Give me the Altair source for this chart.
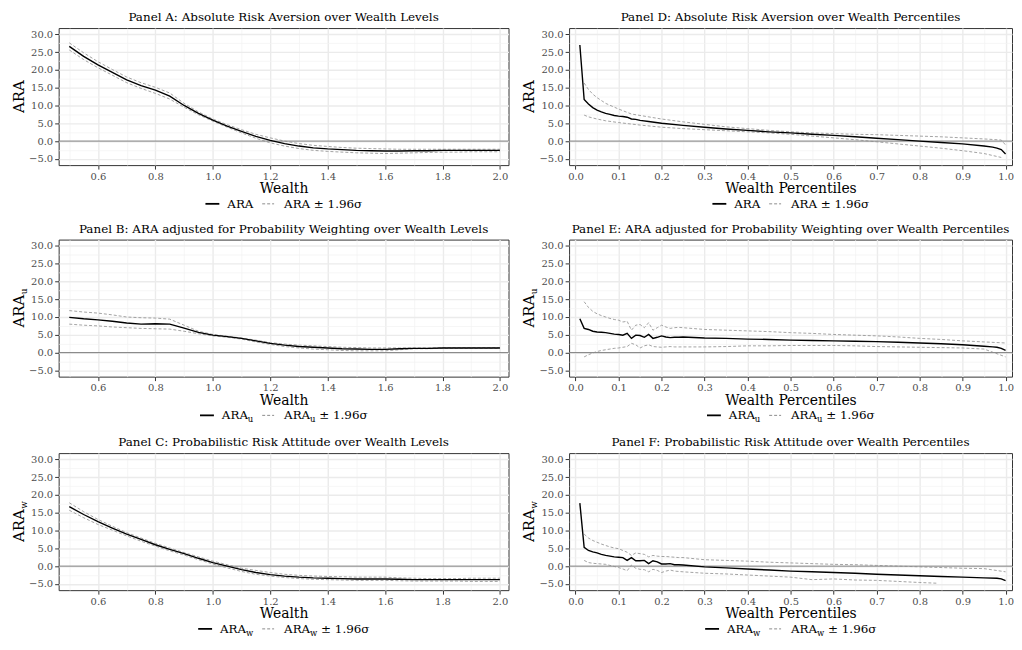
import altair as alt
import pandas as pd

FONT = "DejaVu Serif"

# ---------------- axes / scales ----------------
Y_DOMAIN = [-6.75, 31.75]
WEALTH_DOMAIN = [0.463, 2.03]
PCT_DOMAIN = [-0.015, 1.015]
Y_TICKS = [-5, -2.5, 0, 2.5, 5, 7.5, 10, 12.5, 15, 17.5, 20, 22.5, 25, 27.5, 30]
WEALTH_TICKS = [0.5, 0.6, 0.7, 0.8, 0.9, 1.0, 1.1, 1.2, 1.3, 1.4, 1.5, 1.6, 1.7, 1.8, 1.9, 2.0]
PCT_TICKS = [0.0, 0.05, 0.1, 0.15, 0.2, 0.25, 0.3, 0.35, 0.4, 0.45, 0.5, 0.55, 0.6, 0.65,
             0.7, 0.75, 0.8, 0.85, 0.9, 0.95, 1.0]

# ---------------- data: wealth levels ----------------
WEALTH = [0.50, 0.55, 0.60, 0.65, 0.70, 0.75, 0.80, 0.85, 0.90, 0.95, 1.00, 1.05, 1.10, 1.15,
          1.20, 1.25, 1.30, 1.35, 1.40, 1.45, 1.50, 1.55, 1.60, 1.65, 1.70, 1.75, 1.80, 1.85,
          1.90, 1.95, 2.00]

A_EST = [26.6, 23.8, 21.4, 19.3, 17.2, 15.6, 14.3, 12.6, 10.0, 7.8, 5.9, 4.2, 2.7, 1.3, 0.2,
         -0.7, -1.4, -1.9, -2.2, -2.4, -2.6, -2.7, -2.8, -2.8, -2.7, -2.7, -2.6, -2.6, -2.6, -2.6, -2.6]
A_UP = [27.6, 24.8, 22.3, 20.1, 18.0, 16.4, 15.1, 13.5, 10.6, 8.2, 6.2, 4.6, 3.2, 1.9, 0.9,
        0.0, -0.7, -1.2, -1.5, -1.8, -2.0, -2.1, -2.2, -2.3, -2.3, -2.3, -2.3, -2.3, -2.3, -2.3, -2.3]
A_LO = [25.6, 22.9, 20.6, 18.5, 16.4, 14.8, 13.4, 11.8, 9.5, 7.4, 5.6, 3.9, 2.3, 0.8, -0.5,
        -1.4, -2.1, -2.6, -2.9, -3.1, -3.3, -3.4, -3.5, -3.4, -3.3, -3.2, -3.1, -3.1, -3.0, -3.0, -3.0]

B_EST = [9.9, 9.5, 9.2, 8.8, 8.3, 8.0, 8.1, 8.0, 6.9, 5.7, 4.9, 4.5, 4.0, 3.3, 2.6, 2.1, 1.7,
         1.5, 1.3, 1.1, 1.0, 0.9, 0.9, 1.1, 1.2, 1.2, 1.3, 1.3, 1.3, 1.3, 1.3]
B_UP = [11.8, 11.4, 11.1, 10.6, 10.0, 9.8, 9.7, 9.4, 7.7, 6.0, 5.1, 4.6, 4.1, 3.5, 2.8, 2.4,
        2.1, 1.9, 1.7, 1.5, 1.4, 1.3, 1.3, 1.3, 1.3, 1.3, 1.4, 1.4, 1.4, 1.4, 1.4]
B_LO = [8.0, 7.7, 7.5, 7.2, 7.0, 6.8, 6.7, 6.6, 6.0, 5.3, 4.7, 4.3, 3.8, 3.0, 2.3, 1.7, 1.3,
        1.0, 0.8, 0.6, 0.5, 0.5, 0.5, 0.8, 1.1, 1.1, 1.2, 1.2, 1.2, 1.2, 1.2]

C_EST = [16.7, 14.5, 12.5, 10.7, 9.0, 7.5, 6.0, 4.7, 3.5, 2.2, 1.0, 0.0, -1.0, -1.8, -2.4,
         -2.8, -3.1, -3.3, -3.4, -3.5, -3.6, -3.6, -3.6, -3.7, -3.8, -3.8, -3.8, -3.8, -3.8, -3.8, -3.8]
C_UP = [17.8, 15.3, 13.1, 11.2, 9.4, 7.9, 6.4, 5.1, 3.8, 2.6, 1.4, 0.4, -0.6, -1.2, -1.8,
        -2.3, -2.6, -2.8, -2.9, -3.0, -3.1, -3.1, -3.1, -3.3, -3.4, -3.5, -3.5, -3.5, -3.4, -3.4, -3.4]
C_LO = [15.7, 13.6, 11.7, 10.1, 8.5, 7.0, 5.6, 4.3, 3.1, 1.8, 0.6, -0.5, -1.5, -2.3, -2.8,
        -3.2, -3.5, -3.7, -3.8, -3.9, -4.0, -4.0, -4.0, -4.1, -4.2, -4.2, -4.2, -4.2, -4.3, -4.3, -4.3]

# ---------------- data: wealth percentiles ----------------
D_EST_X = [0.01, 0.02, 0.03, 0.04, 0.05, 0.06, 0.07, 0.08, 0.09, 0.10, 0.11, 0.12, 0.13, 0.14,
           0.15, 0.17, 0.20, 0.25, 0.30, 0.35, 0.40, 0.45, 0.50, 0.55, 0.60, 0.65, 0.70, 0.75,
           0.80, 0.85, 0.90, 0.95, 0.97, 0.98, 0.99, 1.00]
D_EST = [27.0, 11.7, 10.4, 9.4, 8.7, 8.2, 7.8, 7.5, 7.2, 7.0, 6.9, 6.7, 6.2, 6.1, 5.8, 5.5,
         5.0, 4.4, 3.9, 3.4, 3.0, 2.6, 2.3, 1.9, 1.6, 1.2, 0.8, 0.4, 0.0, -0.4, -0.8, -1.4,
         -1.7, -2.0, -2.4, -3.6]
D_UP_X = [0.02, 0.03, 0.04, 0.05, 0.07, 0.10, 0.13, 0.15, 0.20, 0.25, 0.30, 0.35, 0.40, 0.45,
          0.50, 0.55, 0.60, 0.65, 0.70, 0.75, 0.80, 0.85, 0.90, 0.95, 0.99, 1.00]
D_UP = [16.3, 14.5, 13.2, 12.2, 10.6, 9.0, 7.6, 7.2, 6.2, 5.4, 4.7, 4.0, 3.5, 3.0, 2.6, 2.3,
        2.1, 1.9, 1.8, 1.6, 1.4, 1.2, 0.9, 0.6, 0.3, -1.1]
D_LO_X = [0.02, 0.03, 0.05, 0.07, 0.10, 0.15, 0.20, 0.25, 0.30, 0.35, 0.40, 0.45, 0.50, 0.55,
          0.60, 0.65, 0.70, 0.75, 0.80, 0.85, 0.90, 0.95, 0.99]
D_LO = [7.3, 6.8, 6.2, 5.7, 5.2, 4.5, 3.9, 3.5, 3.2, 2.9, 2.6, 2.3, 1.9, 1.4, 0.9, 0.4, -0.2,
        -0.8, -1.4, -2.0, -2.7, -3.5, -4.6]

E_EST_X = [0.01, 0.02, 0.03, 0.04, 0.05, 0.06, 0.07, 0.08, 0.09, 0.10, 0.11, 0.12, 0.13, 0.14,
           0.15, 0.16, 0.17, 0.18, 0.19, 0.20, 0.21, 0.22, 0.23, 0.24, 0.25, 0.30, 0.35, 0.40,
           0.45, 0.50, 0.55, 0.60, 0.65, 0.70, 0.75, 0.80, 0.85, 0.90, 0.95, 0.97, 0.98, 0.99, 1.00]
E_EST = [9.5, 6.8, 6.5, 6.0, 5.8, 5.7, 5.6, 5.4, 5.2, 5.1, 4.9, 5.4, 4.0, 4.9, 4.8, 4.3, 5.1,
         4.0, 4.3, 4.7, 4.4, 4.2, 4.3, 4.3, 4.4, 4.1, 4.0, 3.8, 3.7, 3.5, 3.4, 3.3, 3.2, 3.1,
         2.9, 2.7, 2.5, 2.2, 1.8, 1.6, 1.5, 1.2, 0.6]
E_BAND_X = [0.02, 0.03, 0.04, 0.05, 0.06, 0.07, 0.08, 0.09, 0.10, 0.11, 0.12, 0.13, 0.14, 0.15,
            0.16, 0.17, 0.18, 0.19, 0.20, 0.21, 0.22, 0.23, 0.24, 0.25, 0.30, 0.35, 0.40, 0.45,
            0.50, 0.55, 0.60, 0.65, 0.70, 0.75, 0.80, 0.85, 0.90, 0.95, 1.00]
E_UP = [14.3, 12.7, 11.6, 10.9, 10.4, 10.0, 9.6, 9.3, 9.1, 8.6, 8.8, 6.3, 7.7, 7.9, 7.0, 8.4,
        6.3, 7.0, 7.7, 7.2, 6.8, 7.0, 7.1, 7.0, 6.5, 6.3, 6.1, 5.9, 5.6, 5.4, 5.1, 4.9, 4.7,
        4.4, 4.0, 3.7, 3.3, 3.0, 2.7]
E_LO = [-1.2, -0.6, -0.1, 0.3, 0.6, 0.8, 1.0, 1.2, 1.3, 1.5, 1.7, 2.6, 2.2, 1.3, 1.9, 2.2, 1.7,
        1.6, 1.5, 1.6, 1.7, 1.6, 1.6, 1.6, 1.6, 1.7, 1.9, 1.9, 2.0, 2.0, 2.0, 1.9, 1.7, 1.6,
        1.5, 1.4, 1.3, 1.0, -1.2]

F_EST_X = [0.01, 0.02, 0.03, 0.04, 0.05, 0.06, 0.07, 0.08, 0.09, 0.10, 0.11, 0.12, 0.13, 0.14,
           0.15, 0.16, 0.17, 0.18, 0.19, 0.20, 0.21, 0.22, 0.23, 0.24, 0.25, 0.30, 0.35, 0.40,
           0.45, 0.50, 0.55, 0.60, 0.65, 0.70, 0.75, 0.80, 0.85, 0.90, 0.95, 0.98, 0.99, 1.00]
F_EST = [17.7, 5.3, 4.4, 4.0, 3.7, 3.3, 3.0, 2.8, 2.6, 2.5, 2.4, 1.6, 2.4, 1.5, 1.5, 1.6, 0.7,
         1.5, 1.2, 0.6, 0.6, 0.7, 0.4, 0.4, 0.3, -0.2, -0.5, -0.8, -1.1, -1.4, -1.6, -1.8, -2.0,
         -2.3, -2.5, -2.7, -2.9, -3.1, -3.3, -3.4, -3.6, -4.1]
F_UP_X = [0.02, 0.03, 0.04, 0.05, 0.06, 0.07, 0.08, 0.09, 0.10, 0.11, 0.12, 0.13, 0.14, 0.15,
          0.16, 0.17, 0.18, 0.19, 0.20, 0.21, 0.22, 0.23, 0.24, 0.25, 0.30, 0.35, 0.40, 0.45,
          0.50, 0.55, 0.60, 0.65, 0.70, 0.75, 0.80, 0.85, 0.90, 0.95, 1.00]
F_UP = [9.0, 7.9, 7.2, 6.7, 6.2, 5.8, 5.4, 5.1, 4.9, 4.4, 3.9, 3.0, 3.7, 3.5, 3.3, 2.6, 3.0,
        2.8, 2.7, 2.7, 2.6, 2.5, 2.4, 2.4, 1.8, 1.6, 1.4, 1.1, 0.9, 0.7, 0.5, 0.4, 0.2, 0.0,
        -0.2, -0.4, -0.6, -0.7, -1.6]
F_LO_X = [0.02, 0.03, 0.04, 0.05, 0.06, 0.07, 0.08, 0.09, 0.10, 0.11, 0.12, 0.13, 0.14, 0.15,
          0.16, 0.17, 0.18, 0.19, 0.20, 0.21, 0.22, 0.23, 0.24, 0.25, 0.30, 0.35, 0.40, 0.45,
          0.50, 0.55, 0.60, 0.65, 0.70, 0.75, 0.80, 0.84]
F_LO = [1.6, 1.0, 0.8, 0.7, 0.6, 0.5, 0.2, -0.1, -0.4, -0.8, -1.3, 0.3, -0.6, -0.9, -1.0, -1.6,
        -0.9, -1.2, -1.8, -1.4, -1.1, -1.4, -1.5, -1.6, -2.0, -2.2, -2.5, -2.8, -3.1, -3.8, -3.6,
        -3.9, -4.0, -4.3, -4.6, -4.8]

TITLES = {
    "A": "Panel A: Absolute Risk Aversion over Wealth Levels",
    "B": "Panel B: ARA adjusted for Probability Weighting over Wealth Levels",
    "C": "Panel C: Probabilistic Risk Attitude over Wealth Levels",
    "D": "Panel D: Absolute Risk Aversion over Wealth Percentiles",
    "E": "Panel E: ARA adjusted for Probability Weighting over Wealth Percentiles",
    "F": "Panel F: Probabilistic Risk Attitude over Wealth Percentiles",
}

# ---------------- layout / style ----------------
H = 138
W_LEFT = 453
W_RIGHT = 446
TITLE_SIZE = 12
AXT_SIZE = 15
XT_SIZE = 14
LEG_SIZE = 12
SUB_SIZE = 8.5
YSUB_SIZE = 9

# approximate advance widths (em) of DejaVu Serif, used for centring composed labels
CW = {"A": 0.722, "R": 0.735, " ": 0.318, "±": 0.838, "1": 0.636, ".": 0.318, "9": 0.636,
      "6": 0.636, "σ": 0.64, "u": 0.644, "w": 0.86}


def tw(s, fs):
    return sum(CW.get(c, 0.6) for c in s) * fs


ONE = pd.DataFrame({"k": [0]})


def text_layer(txt, x, y, size, align="left", baseline="alphabetic", angle=0, color="black"):
    props = dict(text=txt, font=FONT, fontSize=size, align=align, baseline=baseline, color=color)
    if angle:
        props["angle"] = angle
    return alt.Chart(ONE).mark_text(**props).encode(x=alt.value(x), y=alt.value(y))


def rule_layer(x1, x2, y, color, width, dash=None):
    props = dict(color=color, strokeWidth=width)
    if dash:
        props["strokeDash"] = dash
    return alt.Chart(ONE).mark_rule(**props).encode(x=alt.value(x1), x2=alt.value(x2), y=alt.value(y))


def panel(key, kind, sub, est_x, est_y, up_x, up_y, lo_x, lo_y, W):
    if kind == "wealth":
        xdom, xvals, xtitle = WEALTH_DOMAIN, WEALTH_TICKS, "Wealth"
        xtest = "abs(round(datum.value*10)) % 2 === 0"
    else:
        xdom, xvals, xtitle = PCT_DOMAIN, PCT_TICKS, "Wealth Percentiles"
        xtest = "round(datum.value*100) % 10 === 0"
    ytest = "datum.value % 5 === 0"

    def axis(test, vals, title):
        return alt.Axis(
            values=vals, format=".1f", title=title,
            labelExpr=f"({test}) ? datum.label : ''",
            gridColor={"condition": {"test": test, "value": "#EBEBEB"}, "value": "#F2F2F2"},
            gridWidth={"condition": {"test": test, "value": 1.4}, "value": 0.7},
            tickOpacity={"condition": {"test": test, "value": 1}, "value": 0},
        )

    x_enc = alt.X("x:Q", scale=alt.Scale(domain=xdom, nice=False, zero=False),
                  axis=axis(xtest, xvals, xtitle))
    y_enc = alt.Y("y:Q", scale=alt.Scale(domain=Y_DOMAIN, nice=False, zero=False),
                  axis=axis(ytest, Y_TICKS, ""))

    est_df = pd.DataFrame({"x": est_x, "y": est_y})
    band_df = pd.concat([
        pd.DataFrame({"x": up_x, "y": up_y, "series": "upper"}),
        pd.DataFrame({"x": lo_x, "y": lo_y, "series": "lower"}),
    ])
    zero_df = pd.DataFrame({"y": [0]})

    zero = alt.Chart(zero_df).mark_rule(color="#7F7F7F", strokeWidth=1).encode(y=y_enc)
    band = alt.Chart(band_df).mark_line(color="#8C8C8C", strokeWidth=0.8, strokeDash=[3, 2]).encode(
        x=x_enc, y=y_enc, detail="series:N")
    est = alt.Chart(est_df).mark_line(color="black", strokeWidth=1.4).encode(x=x_enc, y=y_enc)

    layers = [zero, band, est]

    # panel title
    layers.append(text_layer(TITLES[key], W / 2, -11, TITLE_SIZE, align="center", baseline="middle"))

    # y-axis title with optional subscript
    x0 = -35
    if sub:
        w_main = tw("ARA", AXT_SIZE)
        w_sub = tw(sub, YSUB_SIZE)
        yend = H / 2 + (w_main + w_sub) / 2 - w_main
        layers.append(text_layer("ARA", x0, yend, AXT_SIZE, align="right", angle=270))
        layers.append(text_layer(sub, x0 + 3, yend - 0.5, YSUB_SIZE, align="left", angle=270))
    else:
        layers.append(text_layer("ARA", x0, H / 2, AXT_SIZE, align="center", angle=270))

    # legend (composed so the subscripts can be drawn)
    yl = H + 39
    yb = H + 43
    w_ara = tw("ARA", LEG_SIZE)
    w_sub = tw(sub, SUB_SIZE) if sub else 0
    w_sp = tw(" ", LEG_SIZE)
    tail = "± 1.96σ"
    w1 = w_ara + w_sub
    w2 = w1 + w_sp + tw(tail, LEG_SIZE)
    total = 14 + 8 + w1 + 9 + 12 + 10 + w2
    s = W / 2 - total / 2
    layers.append(rule_layer(s, s + 14, yl, "black", 1.8))
    p = s + 22
    layers.append(text_layer("ARA", p, yb, LEG_SIZE))
    if sub:
        layers.append(text_layer(sub, p + w_ara, yb + 3, SUB_SIZE))
    p = p + w1 + 9
    layers.append(rule_layer(p, p + 12, yl, "#8C8C8C", 1, [3, 2]))
    p = p + 22
    layers.append(text_layer("ARA", p, yb, LEG_SIZE))
    if sub:
        layers.append(text_layer(sub, p + w_ara, yb + 3, SUB_SIZE))
    layers.append(text_layer(tail, p + w1 + w_sp, yb, LEG_SIZE))

    return alt.layer(*layers).properties(width=W, height=H)


pA = panel("A", "wealth", "", WEALTH, A_EST, WEALTH, A_UP, WEALTH, A_LO, W_LEFT)
pB = panel("B", "wealth", "u", WEALTH, B_EST, WEALTH, B_UP, WEALTH, B_LO, W_LEFT)
pC = panel("C", "wealth", "w", WEALTH, C_EST, WEALTH, C_UP, WEALTH, C_LO, W_LEFT)
pD = panel("D", "pct", "", D_EST_X, D_EST, D_UP_X, D_UP, D_LO_X, D_LO, W_RIGHT)
pE = panel("E", "pct", "u", E_EST_X, E_EST, E_BAND_X, E_UP, E_BAND_X, E_LO, W_RIGHT)
pF = panel("F", "pct", "w", F_EST_X, F_EST, F_UP_X, F_UP, F_LO_X, F_LO, W_RIGHT)

HS = 12
VS = 11
chart = alt.vconcat(
    alt.hconcat(pA, pD, spacing=HS),
    alt.hconcat(pB, pE, spacing=HS),
    alt.hconcat(pC, pF, spacing=HS),
    spacing=VS,
).properties(
    padding={"left": 3, "top": 0, "right": 0, "bottom": 0},
    background="white",
).configure_view(
    stroke="#333333", strokeWidth=1
).configure_axis(
    domain=False, tickColor="#333333", tickSize=4, tickWidth=1,
    labelFont=FONT, labelFontSize=10, labelColor="#4D4D4D", labelPadding=2,
    labelFlush=False, labelOverlap=False,
    titleFont=FONT, titleFontSize=XT_SIZE, titleFontWeight="normal", titleColor="black",
    titlePadding=1,
)

chart.save("out.html", embed_options={"renderer": "svg", "actions": False})
